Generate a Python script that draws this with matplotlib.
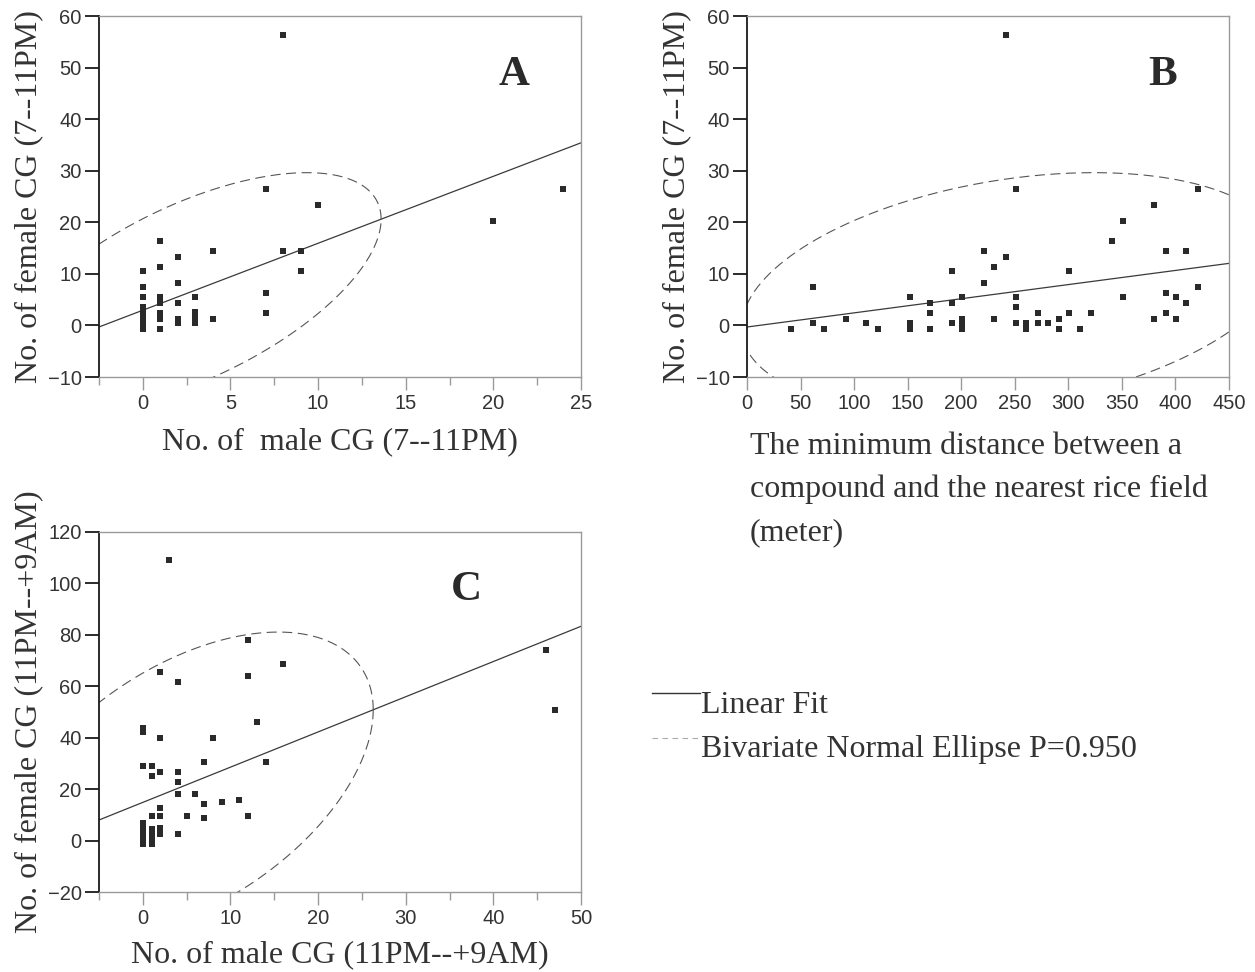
import matplotlib
matplotlib.use('Agg')
import matplotlib.pyplot as plt
import numpy as np
from matplotlib.ticker import MultipleLocator
from matplotlib.lines import Line2D

plt.rcParams['font.family'] = ['Liberation Sans', 'DejaVu Sans']
SERIF = ['Liberation Serif', 'DejaVu Serif']

# chi-square (2 df) quantile for P=0.950
CHI2_95 = 5.991

# --- panel A: male vs female CG (7--11PM)
male_a = [0, 0, 0, 0, 0, 0, 0, 0,
          1, 1, 1, 1, 1, 1, 1,
          2, 2, 2, 2, 2,
          3, 3, 3, 3,
          4, 4,
          7, 7, 7,
          8, 8,
          9, 9,
          10, 20, 24]
female_a = [10.6, 7.5, 5.6, 3.6, 2.5, 1.5, 0.5, -0.6,
            16.4, 11.4, 5.6, 4.4, 2.4, 1.3, -0.6,
            13.3, 8.3, 4.4, 1.2, 0.5,
            5.6, 2.6, 1.5, 0.5,
            14.5, 1.3,
            26.5, 6.3, 2.5,
            56.3, 14.5,
            14.5, 10.6,
            23.3, 20.3, 26.5]
# bivariate normal parameters (x mean, y mean, x sd, y sd, corr)
mean_a = (2.73, 6.5)
sd_a = (4.44, 9.45)
rho_a = 0.61

# --- panel B: distance to rice field vs female CG (7--11PM)
dist_b = [41, 62, 62, 72, 92, 111, 122,
          152, 152, 152,
          171, 171, 171,
          191, 191, 191,
          201, 201, 201, 201,
          221, 221,
          231, 231,
          242, 242,
          251, 251, 251, 251,
          261, 261,
          272, 272,
          281,
          291, 291,
          301, 301,
          311, 321, 341,
          351, 351,
          380, 380,
          391, 391, 391,
          401, 401,
          410, 410,
          421, 421]
female_b = [-0.7, 7.5, 0.5, -0.7, 1.3, 0.5, -0.7,
            5.6, 0.5, -0.7,
            4.4, 2.5, -0.7,
            10.6, 4.4, 0.5,
            5.6, 1.3, 0.5, -0.7,
            14.5, 8.3,
            11.4, 1.3,
            56.3, 13.3,
            26.5, 5.6, 3.6, 0.5,
            0.5, -0.7,
            2.5, 0.5,
            0.5,
            1.3, -0.7,
            10.6, 2.5,
            -0.7, 2.5, 16.4,
            20.3, 5.6,
            23.4, 1.3,
            14.5, 6.3, 2.5,
            5.6, 1.3,
            14.5, 4.4,
            26.5, 7.5]
mean_b = (248, 6.5)
sd_b = (103.4, 9.45)
rho_b = 0.30

# --- panel C: male vs female CG (11PM--+9AM)
male_c = [0, 0, 0, 0, 0, 0, 0, 0, 0,
          1, 1, 1, 1, 1, 1, 1,
          2, 2, 2, 2, 2, 2, 2,
          3,
          4, 4, 4, 4, 4,
          5, 6,
          7, 7, 7,
          8, 9, 11,
          12, 12, 12,
          13, 14, 16, 46, 47]
female_c = [43.8, 42.2, 29.0, 7.0, 5.0, 3.0, 1.0, -1.3, -1.3,
            29.0, 25.1, 9.6, 4.6, 2.5, 0.5, -1.3,
            65.6, 39.9, 26.7, 12.5, 9.6, 4.7, 2.5,
            109.1,
            61.7, 26.7, 22.8, 18.1, 2.6,
            9.6, 18.1,
            30.6, 14.2, 8.8,
            39.9, 15.0, 15.8,
            78.0, 64.0, 9.6,
            46.1, 30.6, 68.7, 74.1, 50.8]
mean_c = (5.0, 21.7)
sd_c = (8.70, 24.26)
rho_c = 0.491

TICK_COL = '#333333'
FRAME_COL = '#9a9a9a'


def setup_axes(ax, xlim, ylim, xmajor, xminor, ymajor):
    ax.set_xlim(*xlim)
    ax.set_ylim(*ylim)
    ax.xaxis.set_major_locator(MultipleLocator(xmajor))
    if xminor:
        ax.xaxis.set_minor_locator(MultipleLocator(xminor))
    ax.yaxis.set_major_locator(MultipleLocator(ymajor))
    for s in ['top', 'right', 'bottom']:
        ax.spines[s].set_color(FRAME_COL)
        ax.spines[s].set_linewidth(1.0)
    ax.spines['left'].set_color('#1a1a1a')
    ax.spines['left'].set_linewidth(1.3)
    ax.tick_params(axis='x', which='major', length=9, width=1.0, color=FRAME_COL,
                   labelsize=14.5, labelcolor=TICK_COL, pad=3)
    ax.tick_params(axis='x', which='minor', length=6, width=1.0, color=FRAME_COL)
    ax.tick_params(axis='y', which='major', length=10, width=1.3, color='#1a1a1a',
                   labelsize=14.5, labelcolor=TICK_COL, pad=2.5)


def draw_panel(ax, x, y, mean, sd, rho):
    ax.scatter(x, y, marker='s', s=24, color='#2a2a2a', linewidths=0, zorder=3)
    # linear fit (regression of y on x)
    slope = rho * sd[1] / sd[0]
    icpt = mean[1] - slope * mean[0]
    xx = np.array(ax.get_xlim())
    ax.plot(xx, icpt + slope * xx, color='#3a3a3a', lw=0.9, zorder=2)
    # bivariate normal ellipse
    t = np.linspace(0, 2 * np.pi, 500)
    c = np.sqrt(CHI2_95)
    ex = mean[0] + sd[0] * c * np.cos(t)
    ey = mean[1] + sd[1] * c * (rho * np.cos(t) + np.sqrt(1 - rho ** 2) * np.sin(t))
    ax.plot(ex, ey, color='#555555', lw=0.8, ls=(0, (9, 5)), zorder=2)


fig = plt.figure(figsize=(12.55, 9.72), dpi=100)
ax_a = fig.add_axes([0.0789, 0.6121, 0.384, 0.3714])
ax_b = fig.add_axes([0.5952, 0.6121, 0.384, 0.3714])
ax_c = fig.add_axes([0.0789, 0.0823, 0.384, 0.3704])

setup_axes(ax_a, (-2.5, 25), (-10, 60), 5, 2.5, 10)
setup_axes(ax_b, (0, 450), (-10, 60), 50, None, 10)
setup_axes(ax_c, (-5, 50), (-20, 120), 10, 5, 20)

draw_panel(ax_a, male_a, female_a, mean_a, sd_a, rho_a)
draw_panel(ax_b, dist_b, female_b, mean_b, sd_b, rho_b)
draw_panel(ax_c, male_c, female_c, mean_c, sd_c, rho_c)

lab = dict(family=SERIF, fontsize=23, color='#333333')
ax_a.set_xlabel('No. of  male CG (7--11PM)', va='baseline', **lab)
ax_a.xaxis.set_label_coords(0.5, -0.2)
ax_a.set_ylabel('No. of female CG (7--11PM)', va='center', **lab)
ax_a.yaxis.set_label_coords(-0.145, 0.5)
ax_b.set_ylabel('No. of female CG (7--11PM)', va='center', **lab)
ax_b.yaxis.set_label_coords(-0.145, 0.5)
ax_b.text(0.006, -0.152, 'The minimum distance between a\ncompound and the nearest rice field\n(meter)',
          transform=ax_b.transAxes, ha='left', va='top', linespacing=1.62, **lab)
ax_c.set_xlabel('No. of male CG (11PM--+9AM)', va='baseline', **lab)
ax_c.xaxis.set_label_coords(0.5, -0.196)
ax_c.set_ylabel('No. of female CG (11PM--+9AM)', va='center', **lab)
ax_c.yaxis.set_label_coords(-0.145, 0.5)

letter = dict(family=SERIF, fontsize=31, fontweight='bold', color='#2a2a2a',
              ha='center', va='center')
ax_a.text(0.861, 0.837, 'A', transform=ax_a.transAxes, **letter)
ax_b.text(0.862, 0.837, 'B', transform=ax_b.transAxes, **letter)
ax_c.text(0.763, 0.839, 'C', transform=ax_c.transAxes, **letter)

# legend
fig.add_artist(Line2D([652 / 1255, 700 / 1255], [1 - 693 / 972] * 2,
                      color='#333333', lw=1.0))
fig.add_artist(Line2D([652 / 1255, 700 / 1255], [1 - 738 / 972] * 2,
                      color='#aaaaaa', lw=0.8, ls=(0, (5, 4))))
fig.text(701 / 1255, 1 - 713 / 972, 'Linear Fit', va='baseline', ha='left', **lab)
fig.text(701 / 1255, 1 - 757 / 972, 'Bivariate Normal Ellipse P=0.950',
         va='baseline', ha='left', **lab)

fig.savefig('out.png', dpi=100)
